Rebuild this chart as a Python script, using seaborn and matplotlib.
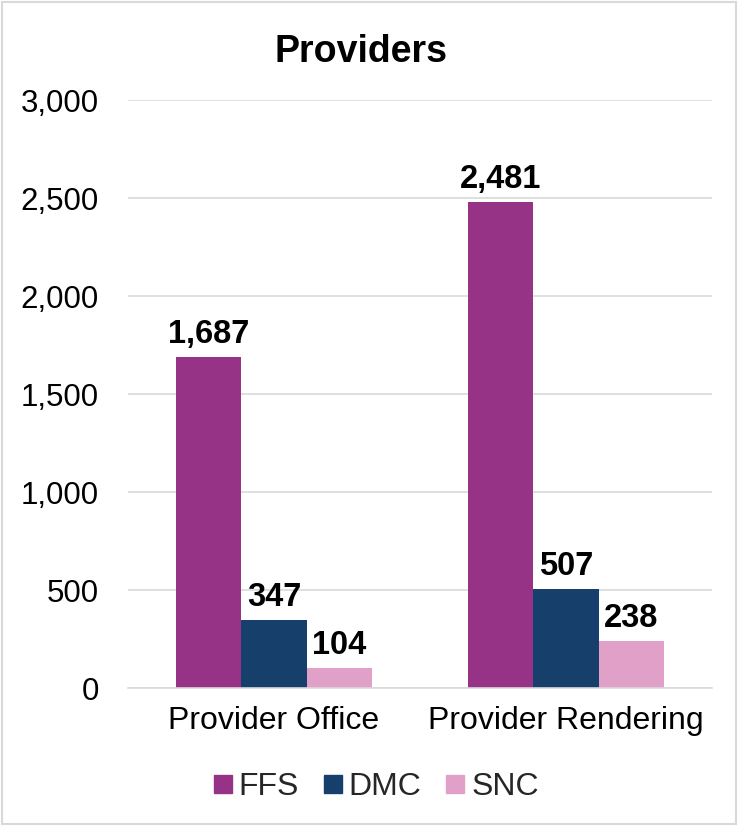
import matplotlib
matplotlib.use("Agg")
import matplotlib.pyplot as plt
from matplotlib.patches import Rectangle
from matplotlib.lines import Line2D
import seaborn as sns
import pandas as pd

categories = ["Provider Office", "Provider Rendering"]
plans = ["FFS", "DMC", "SNC"]
ffs = [1687, 2481]
dmc = [347, 507]
snc = [104, 238]
colors = ["#973387", "#173F6B", "#E0A0C8"]
y_ticks = [0, 500, 1000, 1500, 2000, 2500, 3000]

rows = []
for plan, vals in zip(plans, [ffs, dmc, snc]):
    for cat, v in zip(categories, vals):
        rows.append({"Category": cat, "Plan": plan, "Value": v})
df = pd.DataFrame(rows)

sns.set_theme(style="white")
plt.rcParams["font.family"] = ["Liberation Sans", "DejaVu Sans"]

fig = plt.figure(figsize=(7.38, 8.26), dpi=100)
ax = fig.add_axes([128 / 738, 1 - 688 / 826, 584 / 738, 588 / 826])

sns.barplot(data=df, x="Category", y="Value", hue="Plan", hue_order=plans,
            order=categories, palette=colors, width=0.668, gap=0,
            saturation=1, ax=ax, legend=False, errorbar=None, linewidth=0)

for container in ax.containers:
    ax.bar_label(container, labels=[f"{int(v):,}" for v in container.datavalues],
                 padding=5, fontsize=23.5, fontweight="bold", color="black")

ax.set_ylim(0, 3000)
ax.set_xlim(-0.5, 1.5)
ax.set_yticks(y_ticks)
ax.set_yticklabels([f"{t:,}" for t in y_ticks])
ax.yaxis.grid(True, color="#D9D9D9", linewidth=1.2)
ax.set_axisbelow(True)
for s in ["left", "right", "top"]:
    ax.spines[s].set_visible(False)
ax.spines["bottom"].set_color("#D9D9D9")
ax.spines["bottom"].set_linewidth(1.2)
ax.tick_params(axis="y", length=0, pad=21, labelsize=22.5, labelcolor="black")
ax.tick_params(axis="x", length=0, pad=13, labelsize=23, labelcolor="black")
ax.set_xlabel("")
ax.set_ylabel("")

fig.text(361 / 738, 1 - 52 / 826, "Providers", ha="center", va="center",
         fontsize=27, fontweight="bold", color="black")

handles = [Line2D([0], [0], marker="s", linestyle="none", markersize=12.5,
                  markerfacecolor=c, markeredgecolor=c) for c in colors]
fig.legend(handles, plans, loc="center", bbox_to_anchor=(376 / 738, 1 - 787 / 826),
           ncol=3, frameon=False, fontsize=23, handlelength=0.6,
           handletextpad=0.2, columnspacing=0.75)

fig.patches.append(Rectangle((2 / 738, 2 / 826), 734 / 738, 822 / 826,
                             transform=fig.transFigure, fill=False,
                             edgecolor="#D9D9D9", linewidth=1.5))

fig.savefig("out.png", dpi=100, facecolor="white")
